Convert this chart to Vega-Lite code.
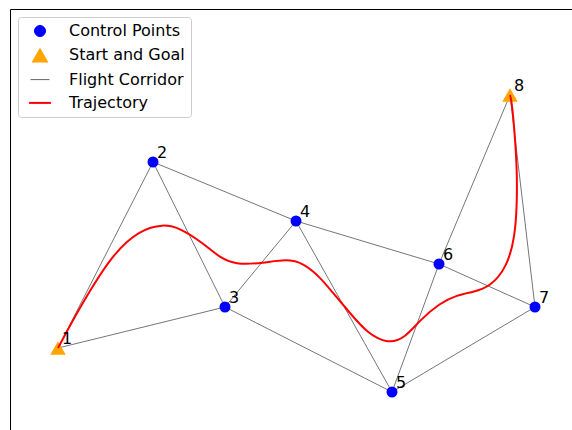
{
  "$schema": "https://vega.github.io/schema/vega-lite/v6.json",
  "width": 562,
  "height": 421,
  "autosize": {"type": "none"},
  "padding": {"left": 10, "top": 9, "right": 0, "bottom": 0},
  "background": "white",
  "config": {
    "view": {"stroke": null},
    "legend": {
      "orient": "top-left",
      "offset": 8,
      "padding": 6,
      "fillColor": "white",
      "strokeColor": "#cccccc",
      "cornerRadius": 3,
      "labelFont": "DejaVu Sans",
      "labelFontSize": 16,
      "labelColor": "#000000",
      "symbolOffset": 8,
      "labelOffset": 21,
      "rowPadding": 7.3
    }
  },
  "datasets": {
    "points": [
      {"id": "1", "x": 4.8, "y": 8.2, "kind": "Start and Goal"},
      {"id": "2", "x": 14.3, "y": 26.8, "kind": "Control Points"},
      {"id": "3", "x": 21.5, "y": 12.3, "kind": "Control Points"},
      {"id": "4", "x": 28.6, "y": 20.9, "kind": "Control Points"},
      {"id": "5", "x": 38.2, "y": 3.8, "kind": "Control Points"},
      {"id": "6", "x": 42.9, "y": 16.6, "kind": "Control Points"},
      {"id": "7", "x": 52.5, "y": 12.3, "kind": "Control Points"},
      {"id": "8", "x": 50.0, "y": 33.5, "kind": "Start and Goal"}
    ],
    "edges": [
      {"e": "1-2", "kind": "Flight Corridor", "x": 4.8, "y": 8.2, "x2": 14.3, "y2": 26.8},
      {"e": "1-3", "kind": "Flight Corridor", "x": 4.8, "y": 8.2, "x2": 21.5, "y2": 12.3},
      {"e": "2-3", "kind": "Flight Corridor", "x": 14.3, "y": 26.8, "x2": 21.5, "y2": 12.3},
      {"e": "2-4", "kind": "Flight Corridor", "x": 14.3, "y": 26.8, "x2": 28.6, "y2": 20.9},
      {"e": "3-4", "kind": "Flight Corridor", "x": 21.5, "y": 12.3, "x2": 28.6, "y2": 20.9},
      {"e": "3-5", "kind": "Flight Corridor", "x": 21.5, "y": 12.3, "x2": 38.2, "y2": 3.8},
      {"e": "4-5", "kind": "Flight Corridor", "x": 28.6, "y": 20.9, "x2": 38.2, "y2": 3.8},
      {"e": "4-6", "kind": "Flight Corridor", "x": 28.6, "y": 20.9, "x2": 42.9, "y2": 16.6},
      {"e": "5-6", "kind": "Flight Corridor", "x": 38.2, "y": 3.8, "x2": 42.9, "y2": 16.6},
      {"e": "5-7", "kind": "Flight Corridor", "x": 38.2, "y": 3.8, "x2": 52.5, "y2": 12.3},
      {"e": "6-7", "kind": "Flight Corridor", "x": 42.9, "y": 16.6, "x2": 52.5, "y2": 12.3},
      {"e": "6-8", "kind": "Flight Corridor", "x": 42.9, "y": 16.6, "x2": 50.0, "y2": 33.5},
      {"e": "7-8", "kind": "Flight Corridor", "x": 52.5, "y": 12.3, "x2": 50.0, "y2": 33.5}
    ],
    "traj": [
      {"i": 0, "kind": "Trajectory", "x": 4.8, "y": 8.2},
      {"i": 1, "kind": "Trajectory", "x": 7.0, "y": 12.3},
      {"i": 2, "kind": "Trajectory", "x": 10.3, "y": 17.7},
      {"i": 3, "kind": "Trajectory", "x": 13.0, "y": 20.0},
      {"i": 4, "kind": "Trajectory", "x": 15.3, "y": 20.6},
      {"i": 5, "kind": "Trajectory", "x": 17.0, "y": 20.2},
      {"i": 6, "kind": "Trajectory", "x": 19.3, "y": 18.7},
      {"i": 7, "kind": "Trajectory", "x": 21.0, "y": 17.2},
      {"i": 8, "kind": "Trajectory", "x": 22.7, "y": 16.5},
      {"i": 9, "kind": "Trajectory", "x": 25.3, "y": 16.7},
      {"i": 10, "kind": "Trajectory", "x": 27.7, "y": 17.1},
      {"i": 11, "kind": "Trajectory", "x": 29.3, "y": 16.7},
      {"i": 12, "kind": "Trajectory", "x": 31.0, "y": 15.3},
      {"i": 13, "kind": "Trajectory", "x": 32.3, "y": 13.7},
      {"i": 14, "kind": "Trajectory", "x": 34.0, "y": 11.7},
      {"i": 15, "kind": "Trajectory", "x": 35.7, "y": 9.7},
      {"i": 16, "kind": "Trajectory", "x": 37.8, "y": 8.6},
      {"i": 17, "kind": "Trajectory", "x": 39.5, "y": 9.2},
      {"i": 18, "kind": "Trajectory", "x": 41.0, "y": 11.0},
      {"i": 19, "kind": "Trajectory", "x": 43.0, "y": 12.7},
      {"i": 20, "kind": "Trajectory", "x": 44.7, "y": 13.5},
      {"i": 21, "kind": "Trajectory", "x": 46.3, "y": 13.8},
      {"i": 22, "kind": "Trajectory", "x": 48.0, "y": 14.3},
      {"i": 23, "kind": "Trajectory", "x": 49.7, "y": 16.3},
      {"i": 24, "kind": "Trajectory", "x": 50.5, "y": 19.3},
      {"i": 25, "kind": "Trajectory", "x": 50.7, "y": 22.7},
      {"i": 26, "kind": "Trajectory", "x": 50.7, "y": 26.0},
      {"i": 27, "kind": "Trajectory", "x": 50.5, "y": 29.3},
      {"i": 28, "kind": "Trajectory", "x": 50.2, "y": 32.7},
      {"i": 29, "kind": "Trajectory", "x": 50.0, "y": 33.5}
    ]
  },
  "encoding": {
    "x": {
      "field": "x",
      "type": "quantitative",
      "scale": {"domain": [0, 56.2], "nice": false, "zero": false},
      "axis": {"orient": "top", "title": null, "labels": false, "ticks": false, "grid": false, "domain": true, "domainColor": "#000000", "domainWidth": 1}
    },
    "y": {
      "field": "y",
      "type": "quantitative",
      "scale": {"domain": [0, 42.1], "nice": false, "zero": false},
      "axis": {"orient": "left", "title": null, "labels": false, "ticks": false, "grid": false, "domain": true, "domainColor": "#000000", "domainWidth": 1}
    }
  },
  "layer": [
    {
      "data": {"name": "edges"},
      "mark": {"type": "rule", "strokeWidth": 0.9},
      "encoding": {
        "x2": {"field": "x2"},
        "y2": {"field": "y2"},
        "color": {
          "field": "kind",
          "type": "nominal",
          "scale": {
            "domain": ["Control Points", "Start and Goal", "Flight Corridor", "Trajectory"],
            "range": ["#0000ff", "#ffa500", "#666666", "#ff0000"]
          },
          "legend": {
            "title": null,
            "encode": {
              "symbols": {
                "update": {
                  "strokeWidth": {"signal": "datum.value === 'Trajectory' ? 2 : 1"},
                  "size": {"signal": "(datum.value === 'Trajectory' || datum.value === 'Flight Corridor') ? 1024 : (datum.value === 'Start and Goal' ? 420 : 121)"}
                }
              }
            }
          }
        }
      }
    },
    {
      "data": {"name": "points"},
      "mark": {"type": "point", "filled": true, "opacity": 1},
      "encoding": {
        "color": {"field": "kind", "type": "nominal"},
        "shape": {
          "field": "kind",
          "type": "nominal",
          "scale": {
            "domain": ["Control Points", "Start and Goal", "Flight Corridor", "Trajectory"],
            "range": ["circle", "triangle-up", "stroke", "stroke"]
          },
          "legend": {"title": null}
        },
        "size": {
          "field": "kind",
          "type": "nominal",
          "scale": {
            "domain": ["Control Points", "Start and Goal", "Flight Corridor", "Trajectory"],
            "range": [121, 480, 1024, 1024]
          },
          "legend": {"title": null}
        }
      }
    },
    {
      "data": {"name": "traj"},
      "mark": {"type": "line", "strokeWidth": 2, "interpolate": "basis"},
      "encoding": {
        "order": {"field": "i", "type": "quantitative"},
        "color": {"field": "kind", "type": "nominal"}
      }
    },
    {
      "data": {"name": "points"},
      "mark": {"type": "text", "align": "left", "baseline": "alphabetic", "dx": 4, "dy": -4, "font": "DejaVu Sans", "fontSize": 16, "color": "#000000"},
      "encoding": {
        "text": {"field": "id"}
      }
    }
  ]
}
